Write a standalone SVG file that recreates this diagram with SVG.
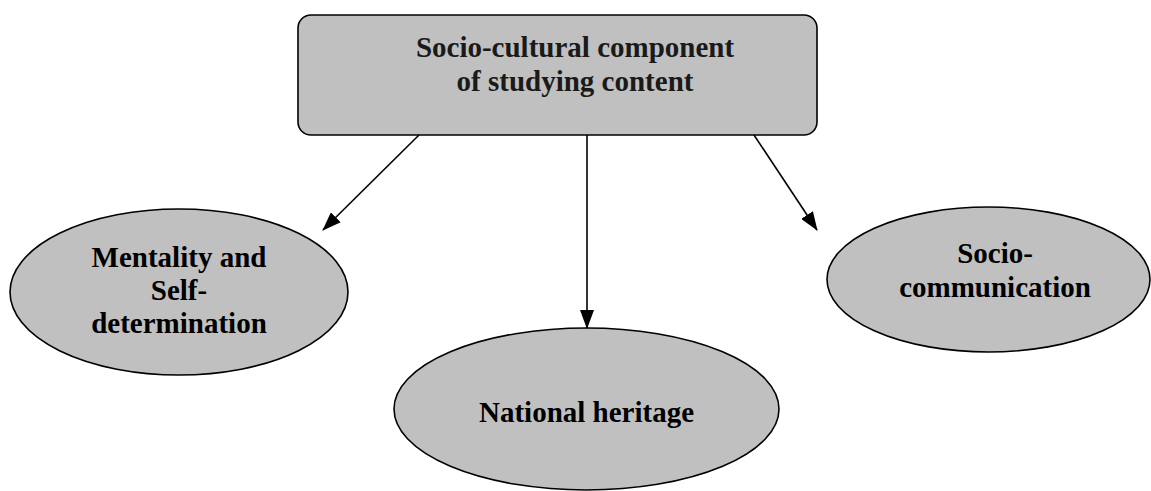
<svg xmlns="http://www.w3.org/2000/svg" width="1151" height="491" viewBox="0 0 1151 491">
<style>
.shape{fill:#c0c0c0;stroke:#000;stroke-width:1.6}
.lbl{font-family:"Liberation Serif","Times New Roman",serif;font-weight:bold;font-size:29px;fill:#000;text-anchor:middle}
.top{fill:#1a1a1a}
.conn{stroke:#000;stroke-width:1.6;fill:none;marker-end:url(#ah)}
</style>
<defs>
<marker id="ah" markerWidth="19" markerHeight="14" refX="18" refY="7" orient="auto" markerUnits="userSpaceOnUse">
<path d="M0,0 L19,7 L0,14 Z" fill="#000"/>
</marker>
</defs>
<rect width="1151" height="491" fill="#fff"/>
<g id="node-root">
<rect class="shape" x="298" y="15" width="519" height="120" rx="13" ry="13"/>
<text class="lbl top" x="575" y="57">Socio-cultural component</text>
<text class="lbl top" x="575" y="91">of studying content</text>
</g>
<g id="node-mentality">
<ellipse class="shape" cx="179" cy="292" rx="169" ry="83"/>
<text class="lbl" x="179" y="267">Mentality and</text>
<text class="lbl" x="179" y="300">Self-</text>
<text class="lbl" x="179" y="333">determination</text>
</g>
<g id="node-heritage">
<ellipse class="shape" cx="586.5" cy="409" rx="192.5" ry="81"/>
<text class="lbl" x="586.5" y="422">National heritage</text>
</g>
<g id="node-sociocomm">
<ellipse class="shape" cx="988.5" cy="279.5" rx="161.5" ry="72.5"/>
<text class="lbl" x="995" y="263">Socio-</text>
<text class="lbl" x="995" y="297">communication</text>
</g>
<g id="connectors">
<line class="conn" x1="419" y1="135" x2="323" y2="230"/>
<line class="conn" x1="587" y1="135" x2="587" y2="328"/>
<line class="conn" x1="754" y1="135" x2="817" y2="230"/>
</g>
</svg>
